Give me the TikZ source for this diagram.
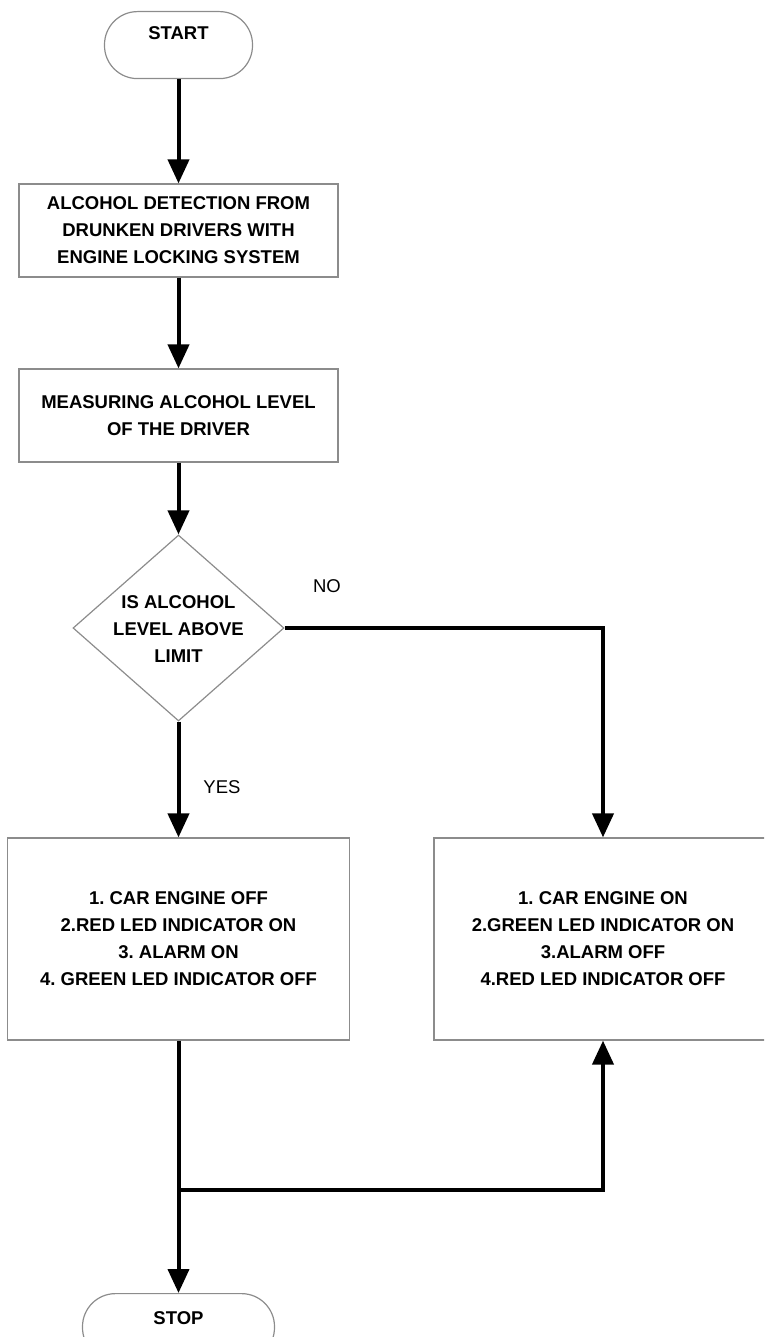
\documentclass[tikz,border=0pt]{standalone}
\usepackage{fontspec}
\setmainfont{Liberation Sans}
\usetikzlibrary{arrows.meta,shapes.geometric}

\tikzset{
	term/.style={draw=black!45, line width=1.2pt, rounded corners=33pt, inner sep=0pt, font=\bfseries\fontsize{18.5}{27}\selectfont},
	stepbox/.style={draw=black!45, line width=1.2pt, align=center, inner sep=0pt, font=\bfseries\fontsize{18.5}{27}\selectfont},
	txt/.style={align=center, inner sep=0pt, font=\bfseries\fontsize{18.5}{27}\selectfont},
	lbl/.style={inner sep=0pt, font=\fontsize{18.5}{22}\selectfont},
	flow/.style={line width=4pt, -{Triangle[width=21pt, length=24pt]}}
}
\frenchspacing

\begin{document}
\begin{tikzpicture}[x=1pt, y=-1pt]
		%%%%% START %%%%%
		\useasboundingbox (0, 0) rectangle (764, 1337);
		\clip (0, 0) rectangle (764, 1337);
		
		\node[term, minimum width=148pt, text height=27.5pt, text depth=39.5pt, anchor=north] (start) at (178.5, 11) {START};
		\node[stepbox, minimum width=319pt, minimum height=93pt] (detect) at (178.5, 230.5) {ALCOHOL DETECTION FROM\\DRUNKEN DRIVERS WITH\\ENGINE LOCKING SYSTEM};
		\node[stepbox, minimum width=319pt, minimum height=93pt] (measure) at (178.5, 415.5) {MEASURING ALCOHOL LEVEL\\OF THE DRIVER};
		
		\node[diamond, draw=black!45, line width=1.2pt, inner sep=0pt, minimum width=211pt, minimum height=186pt] (test) at (178.5, 628) {};
		\node[txt] (testtxt) at (178.5, 629) {IS ALCOHOL\\LEVEL ABOVE\\LIMIT};
		
		\node[stepbox, minimum width=342pt, minimum height=202pt] (offbox) at (178.5, 939) {1. CAR ENGINE OFF\\2.RED LED INDICATOR ON\\3. ALARM ON\\4. GREEN LED INDICATOR OFF};
		\node[stepbox, minimum width=338pt, minimum height=202pt] (onbox) at (603, 939) {1. CAR ENGINE ON\\2.GREEN LED INDICATOR ON\\3.ALARM OFF\\4.RED LED INDICATOR OFF};
		
		\node[term, minimum width=192pt, text height=30.5pt, text depth=36.5pt, anchor=north] (stop) at (178.5, 1293) {STOP};
		
		\node[lbl] (nolbl) at (327, 586) {NO};
		\node[lbl] (yeslbl) at (222, 787) {YES};
		
		\draw[flow] (start) -- (detect);
		\draw[flow] (detect) -- (measure);
		\draw[flow] (measure) -- (test);
		\draw[flow] (test) -- (offbox);
		\draw[flow] (test.east) -| (onbox.north);
		
		\coordinate (join) at (178.5, 1190);
		\draw[flow] (offbox) -- (stop);
		\draw[flow] (join) -| (onbox.south);
		%%%%% END %%%%%
\end{tikzpicture}
\end{document}
